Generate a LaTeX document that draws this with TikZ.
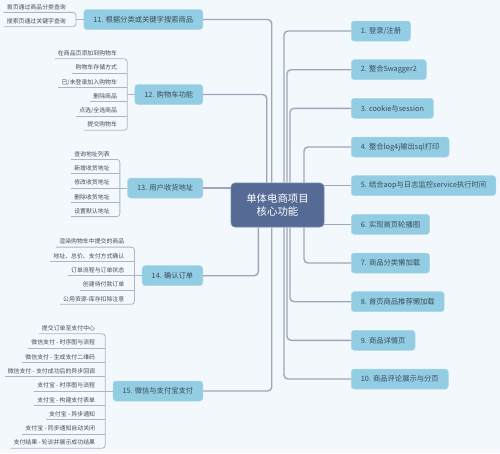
\documentclass[tikz,border=0pt]{standalone}
\usepackage{fontspec}
\setmainfont{Noto Sans CJK SC}
\definecolor{bgcol}{HTML}{F3F8FD}
\definecolor{topicfill}{HTML}{92CDE3}
\definecolor{topicdraw}{HTML}{A9D8EA}
\definecolor{topictext}{HTML}{3B4B5B}
\definecolor{centerfill}{HTML}{556A94}
\definecolor{centerdraw}{HTML}{7487AB}
\definecolor{branchcol}{HTML}{9EA7B9}
\definecolor{leafcol}{HTML}{ADB4C3}
\definecolor{leaftext}{HTML}{454D58}
\newcommand\leafgroup[3]{%
  \coordinate (b#1) at ([xshift=-7.5pt]#1.west);
  \coordinate (t#1) at ([xshift=-17.5pt]#1.west);
  \pgfmathtruncatemacro\lastk{#2-1}
  \foreach \t [count=\k from 0] in {#3} {
    \pgfmathsetmacro\ys{(#2-1)*7.15+3.3-14.3*\k}
    \node[leaf] (#1-\k) at ([yshift=\ys pt]t#1) {\t};
    \coordinate (#1-u\k) at ([xshift=-3pt,yshift=-3.3pt]#1-\k.base west);
    \ifnum\k>0 \ifnum\k<\lastk
      \draw[leafline] (#1-u\k) -- (b#1 |- #1-u\k);
    \fi\fi
  }
  \draw[leafline] (#1-u0) -| (b#1 |- #1-u\lastk) -- (#1-u\lastk);
  \draw[leafline] (b#1) -- (#1.west);
}
\begin{document}
\begin{tikzpicture}[x=1pt,y=-1pt,
  topic/.style={rectangle, rounded corners=3pt, fill=topicfill, draw=topicdraw,
    line width=0.5pt, text=topictext, font=\fontsize{7.3}{8}\selectfont,
    inner xsep=9.5pt, inner ysep=0pt, minimum height=20pt},
  central/.style={rectangle, rounded corners=4pt, fill=centerfill, draw=centerdraw,
    line width=0.6pt, text=white, font=\fontsize{10.4}{13}\selectfont, align=center,
    minimum width=93pt, minimum height=44pt, inner sep=0pt},
  leaf/.style={inner sep=0pt, anchor=base east, text=leaftext,
    font=\fontsize{5.9}{7}\selectfont},
  branch/.style={draw=branchcol, line width=1.4pt, rounded corners=4pt},
  leafline/.style={draw=leafcol, line width=0.8pt, rounded corners=3pt},
]
\fill[bgcol] (0,0) rectangle (500,453);
\useasboundingbox (0,0) rectangle (500,453);

\node[central] (c) at (277.5,205) {单体电商项目\\核心功能};

\node[topic, anchor=west] (n1) at (351,31) {1. 登录/注册};
\node[topic, anchor=west] (n2) at (351,69.7) {2. 整合Swagger2};
\node[topic, anchor=west] (n3) at (351,108.3) {3. cookie与session};
\node[topic, anchor=west] (n4) at (351,147) {4. 整合log4j输出sql打印};
\node[topic, anchor=west] (n5) at (351,185.7) {5. 结合aop与日志监控service执行时间};
\node[topic, anchor=west] (n6) at (351,224.3) {6. 实现首页轮播图};
\node[topic, anchor=west] (n7) at (351,263) {7. 商品分类懒加载};
\node[topic, anchor=west] (n8) at (351,301.7) {8. 首页商品推荐懒加载};
\node[topic, anchor=west] (n9) at (351,340.3) {9. 商品详情页};
\node[topic, anchor=west] (n10) at (351,379) {10. 商品评论展示与分页};

\node[topic, anchor=east] (n11) at (203,19.5) {11. 根据分类或关键字搜索商品};
\node[topic, anchor=east] (n12) at (203,94.5) {12. 购物车功能};
\node[topic, anchor=east] (n13) at (203,188) {13. 用户收货地址};
\node[topic, anchor=east] (n14) at (203,275.7) {14. 确认订单};
\node[topic, anchor=east] (n15) at (203,391) {15. 微信与支付宝支付};

\draw[branch] (284,0 |- c.north) |- (n1.west);
\draw[branch] (287,0 |- c.north) |- (n2.west);
\draw[branch] (290,0 |- c.north) |- (n3.west);
\draw[branch] (304,0 |- c.north) |- (n4.west);
\draw[branch] (c.east |- n5.west) -- (n5.west);
\draw[branch] (c.east |- n6.west) -- (n6.west);
\draw[branch] (304,0 |- c.south) |- (n7.west);
\draw[branch] (290,0 |- c.south) |- (n8.west);
\draw[branch] (287,0 |- c.south) |- (n9.west);
\draw[branch] (284,0 |- c.south) |- (n10.west);

\draw[branch] (271.7,0 |- c.north) |- (n11.east);
\draw[branch] (266.7,0 |- c.north) |- (n12.east);
\draw[branch] (c.west |- n13.east) -- (n13.east);
\draw[branch] (258.3,0 |- c.south) |- (n14.east);
\draw[branch] (271.7,0 |- c.south) |- (n15.east);

\leafgroup{n11}{2}{首页通过商品分类查询, 搜索页通过关键字查询}
\leafgroup{n12}{6}{在商品页添加到购物车, 购物车存储方式, 已/未登录加入购物车, 删除商品, 点选/全选商品, 提交购物车}
\leafgroup{n13}{5}{查询地址列表, 新增收货地址, 修改收货地址, 删除收货地址, 设置默认地址}
\leafgroup{n14}{5}{渲染购物车中提交的商品, 地址、总价、支付方式确认, 订单流程与订单状态, 创建待付款订单, 公用资源-库存扣除注意}
\leafgroup{n15}{9}{提交订单至支付中心, 微信支付 - 时序图与流程, 微信支付 - 生成支付二维码, 微信支付 - 支付成功后的异步回调, 支付宝 - 时序图与流程, 支付宝 - 构建支付表单, 支付宝 - 异步通知, 支付宝 - 同步通知自动关闭, 支付结果 - 轮训并展示成功结果}
\end{tikzpicture}
\end{document}
